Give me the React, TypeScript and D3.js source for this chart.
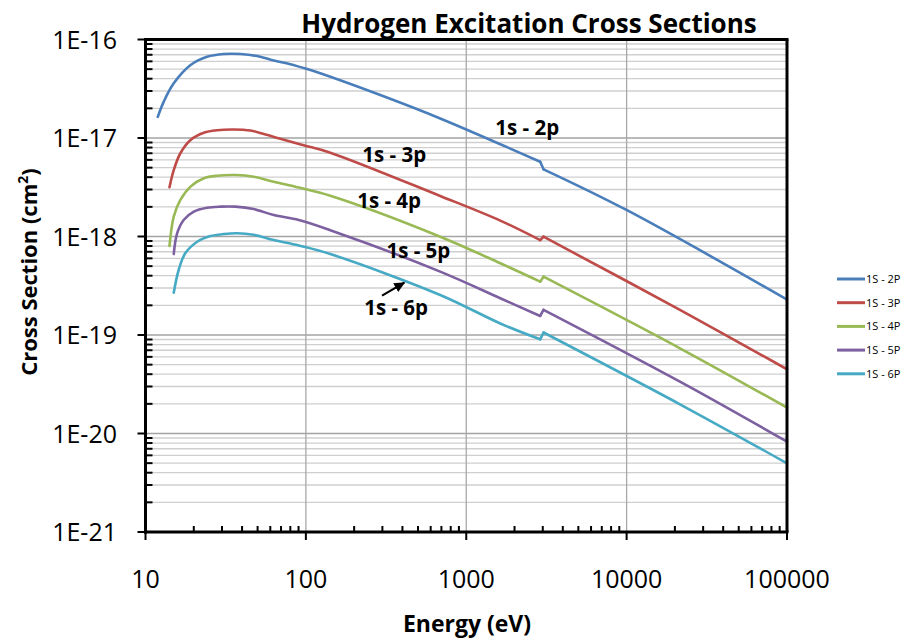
import React from 'react';
import * as d3 from 'd3';

const W = 906;
const H = 641;

const xTickValues = [10, 100, 1000, 10000, 100000];
const xTickLabels = ['10', '100', '1000', '10000', '100000'];
const yTickValues = [1e-16, 1e-17, 1e-18, 1e-19, 1e-20, 1e-21];
const yTickLabels = ['1E-16', '1E-17', '1E-18', '1E-19', '1E-20', '1E-21'];

const seriesNames = ['1S - 2P', '1S - 3P', '1S - 4P', '1S - 5P', '1S - 6P'];
const seriesColors = ['#4A7EBB', '#BE4B48', '#98B954', '#7D60A0', '#46AAC5'];

// energy at which each curve has its small step (eV)
const jumpEnergy = 2950;

const energy2p = [11.93, 13.0, 15.0, 19.1, 24.2, 30.8, 39.1, 49.7, 63.0, 80.0, 100.7, 123, 291, 688, 2890, 3033, 9980, 99500];
const sigma2p = [1.64e-17, 2.34e-17, 3.59e-17, 5.51e-17, 6.68e-17, 7.13e-17, 7.13e-17, 6.79e-17, 6.12e-17, 5.61e-17, 5.04e-17, 4.54e-17, 2.73e-17, 1.58e-17, 5.74e-18, 4.81e-18, 1.86e-18, 2.3e-19];

const energy3p = [14.11, 15.0, 16.5, 19.1, 23.1, 28.0, 35.5, 45.1, 54.6, 69.3, 96.9, 142, 688, 1630, 2890, 3033, 21500, 100000];
const sigma3p = [3.16e-18, 4.73e-18, 7.0e-18, 9.55e-18, 1.13e-17, 1.2e-17, 1.22e-17, 1.19e-17, 1.1e-17, 9.84e-18, 8.45e-18, 7.1e-18, 2.58e-18, 1.45e-18, 9.2e-19, 9.95e-19, 1.8e-19, 4.49e-20];

const energy4p = [14.11, 15.0, 16.5, 19.1, 23.1, 28.0, 36.4, 47.3, 63.0, 90.3, 142, 688, 1630, 2890, 3033, 21500, 100000];
const sigma4p = [8.0e-19, 1.59e-18, 2.35e-18, 3.21e-18, 3.9e-18, 4.14e-18, 4.21e-18, 4.05e-18, 3.6e-18, 3.14e-18, 2.59e-18, 9.95e-19, 5.35e-19, 3.48e-19, 3.91e-19, 7.33e-20, 1.83e-20];

const energy5p = [15.0, 15.76, 17.3, 20.0, 24.2, 29.3, 36.4, 47.3, 63.0, 90.3, 142, 688, 1630, 2890, 3033, 21500, 100000];
const sigma5p = [6.64e-19, 1.08e-18, 1.47e-18, 1.79e-18, 1.96e-18, 2.01e-18, 2.01e-18, 1.9e-18, 1.65e-18, 1.47e-18, 1.16e-18, 4.4e-19, 2.36e-19, 1.56e-19, 1.8e-19, 3.36e-20, 8.26e-21];

const energy6p = [15.0, 16.1, 17.7, 21.0, 25.4, 30.8, 37.2, 47.3, 63.0, 90.3, 142, 688, 1630, 2890, 3033, 21500, 100000];
const sigma6p = [2.69e-19, 4.57e-19, 6.75e-19, 8.85e-19, 1.01e-18, 1.06e-18, 1.08e-18, 1.04e-18, 9.2e-19, 8.1e-19, 6.64e-19, 2.55e-19, 1.31e-19, 9.04e-20, 1.06e-19, 1.98e-20, 4.98e-21];

const annotationTexts = ['1s - 2p', '1s - 3p', '1s - 4p', '1s - 5p', '1s - 6p'];
const annotationEnergy = [1517, 225, 209, 318, 231];
const annotationSigma = [1.07e-17, 5.74e-18, 1.95e-18, 6.05e-19, 1.6e-19];
const arrowFrom = [298.5, 2.51e-19];
const arrowTo = [411, 3.4e-19];

const seriesEnergy = [energy2p, energy3p, energy4p, energy5p, energy6p];
const seriesSigma = [sigma2p, sigma3p, sigma4p, sigma5p, sigma6p];

const FONT = "'Open Sans', 'Liberation Sans', sans-serif";

export default function App() {
  const left = 145.5, right = 787, top = 39.5, bottom = 532;
  const x = d3.scaleLog().domain([10, 100000]).range([left, right]);
  const y = d3.scaleLog().domain([1e-21, 1e-16]).range([bottom, top]);

  const smooth = d3
    .line<[number, number]>()
    .x((d) => x(d[0]))
    .y((d) => y(d[1]))
    .curve(d3.curveCatmullRom.alpha(0.5));
  const straight = d3
    .line<[number, number]>()
    .x((d) => x(d[0]))
    .y((d) => y(d[1]));

  const xMinor: number[] = [];
  for (let d = 10; d < 100000; d *= 10) for (let k = 2; k <= 9; k++) xMinor.push(d * k);
  const yMinor: number[] = [];
  for (let e = -21; e < -16; e++) for (let k = 2; k <= 9; k++) yMinor.push(k * Math.pow(10, e));

  const legendY0 = 279;
  const legendStep = 23.7;

  return (
    <svg width={W} height={H} style={{ position: 'absolute', left: 0, top: 0, background: '#fff' }}>
      <defs>
        <marker id="arrowhead" markerUnits="userSpaceOnUse" markerWidth="12" markerHeight="12" refX="10" refY="5" orient="auto">
          <path d="M0,0 L11,5 L0,10 z" fill="#000" />
        </marker>
      </defs>
      <rect x={0} y={0} width={W} height={H} fill="#fff" />
      {yMinor.map((v, i) => (
        <line key={'ym' + i} x1={left} x2={right} y1={y(v)} y2={y(v)} stroke="#cfcfcf" strokeWidth={1.3} />
      ))}
      {yTickValues.map((v, i) => (
        <line key={'yM' + i} x1={left} x2={right} y1={y(v)} y2={y(v)} stroke="#a3a3a3" strokeWidth={1.5} />
      ))}
      {xTickValues.map((v, i) => (
        <line key={'xM' + i} x1={x(v)} x2={x(v)} y1={top} y2={bottom} stroke="#a8a8a8" strokeWidth={1.3} />
      ))}

      {seriesEnergy.map((en, si) => {
        const pts = en.map((e, j) => [e, seriesSigma[si][j]] as [number, number]);
        const before = pts.filter((p) => p[0] < jumpEnergy);
        const after = pts.filter((p) => p[0] >= jumpEnergy);
        const step = [before[before.length - 1], after[0]];
        return (
          <g key={'s' + si} fill="none" stroke={seriesColors[si]} strokeWidth={2.6} strokeLinejoin="round" strokeLinecap="round">
            <path d={smooth(before) || ''} />
            <path d={straight(step as [number, number][]) || ''} />
            <path d={smooth(after) || ''} />
          </g>
        );
      })}

      <line x1={left} x2={right + 1.5} y1={top} y2={top} stroke="#000" strokeWidth={3} />
      <line x1={right} x2={right} y1={top} y2={bottom} stroke="#000" strokeWidth={3} />
      <line x1={left} x2={left} y1={top - 1.5} y2={bottom + 1.5} stroke="#000" strokeWidth={3} />
      <line x1={left - 1.5} x2={right + 1.5} y1={bottom} y2={bottom} stroke="#000" strokeWidth={3} />

      {yTickValues.map((v, i) => (
        <line key={'yt' + i} x1={left - 8} x2={left} y1={y(v)} y2={y(v)} stroke="#000" strokeWidth={2} />
      ))}
      {yMinor.map((v, i) => (
        <line key={'ytm' + i} x1={left} x2={left + 7} y1={y(v)} y2={y(v)} stroke="#000" strokeWidth={2} />
      ))}
      {xTickValues.map((v, i) => (
        <line key={'xt' + i} x1={x(v)} x2={x(v)} y1={bottom} y2={bottom + 8} stroke="#000" strokeWidth={2} />
      ))}
      {xMinor.map((v, i) => (
        <line key={'xtm' + i} x1={x(v)} x2={x(v)} y1={bottom - 6} y2={bottom} stroke="#000" strokeWidth={2} />
      ))}

      {yTickValues.map((v, i) => (
        <text key={'yl' + i} x={117} y={y(v) + 9} textAnchor="end" fontFamily={FONT} fontSize={25} fill="#000">
          {yTickLabels[i]}
        </text>
      ))}
      {xTickValues.map((v, i) => (
        <text key={'xl' + i} x={x(v)} y={588} textAnchor="middle" fontFamily={FONT} fontSize={25} fill="#000">
          {xTickLabels[i]}
        </text>
      ))}

      <text x={529} y={33} textAnchor="middle" fontFamily={FONT} fontSize={26} fontWeight="bold" fill="#000">
        Hydrogen Excitation Cross Sections
      </text>
      <text x={467} y={632} textAnchor="middle" fontFamily={FONT} fontSize={23} fontWeight="bold" fill="#000">
        Energy (eV)
      </text>
      <text transform="translate(37,272) rotate(-90)" textAnchor="middle" fontFamily={FONT} fontSize={22} fontWeight="bold" fill="#000">
        Cross Section (cm<tspan baselineShift="super" fontSize={14}>2</tspan>)
      </text>

      {annotationTexts.map((t, i) => (
        <text key={'an' + i} x={x(annotationEnergy[i])} y={y(annotationSigma[i])} fontFamily={FONT} fontSize={20.5} fontWeight="bold" fill="#000">
          {t}
        </text>
      ))}
      <line x1={x(arrowFrom[0])} y1={y(arrowFrom[1])} x2={x(arrowTo[0])} y2={y(arrowTo[1])} stroke="#000" strokeWidth={2.2} markerEnd="url(#arrowhead)" />

      {seriesNames.map((n, i) => (
        <g key={'lg' + i}>
          <line x1={837} x2={865} y1={legendY0 + i * legendStep} y2={legendY0 + i * legendStep} stroke={seriesColors[i]} strokeWidth={3} />
          <text x={866} y={legendY0 + i * legendStep + 4} fontFamily={FONT} fontSize={11} fill="#000">
            {n}
          </text>
        </g>
      ))}
    </svg>
  );
}
